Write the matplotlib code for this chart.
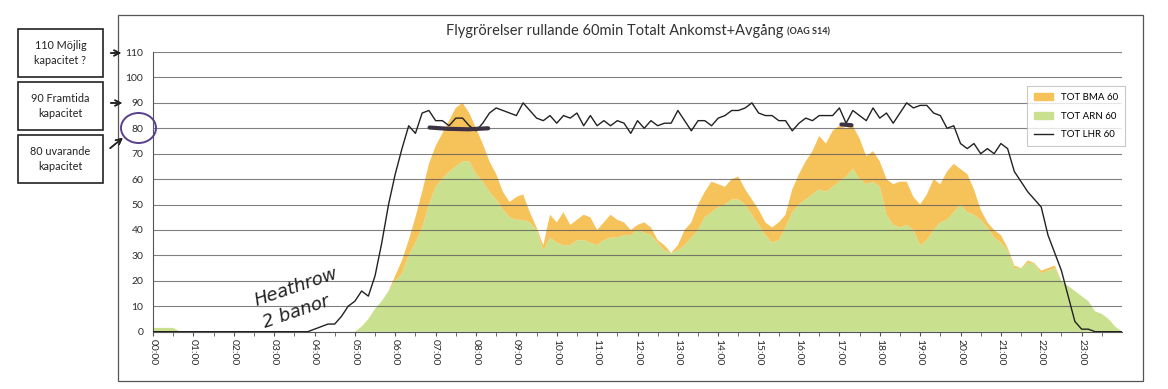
import numpy as np
import matplotlib.pyplot as plt
from matplotlib.patches import Rectangle, Ellipse, Patch
from matplotlib.lines import Line2D

# rolling 60 min movements, one value every 10 minutes from 00:00 to 24:00
arn = [1.5, 1.5, 1.5, 1.5, 0, 0,
       0, 0, 0, 0, 0, 0,
       0, 0, 0, 0, 0, 0,
       0, 0, 0, 0, 0, 0,
       0, 0, 0, 0, 0, 0,
       0, 2, 5, 9, 12, 16,
       20, 23, 30, 35, 41, 50,
       57, 60, 63, 65, 67, 67,
       62, 59, 55, 52, 48, 45,
       44, 44, 43, 40, 32, 37,
       35, 34, 34, 36, 36, 35,
       34, 36, 37, 37, 38, 38,
       40, 39, 38, 35, 32, 31,
       32, 34, 37, 40, 45, 47,
       49, 50, 52, 52, 50, 46,
       42, 38, 35, 36, 41, 47,
       50, 52, 54, 56, 55, 57,
       59, 61, 64, 60, 58, 59,
       57, 46, 42, 41, 42, 40,
       34, 36, 40, 43, 44, 47,
       50, 47, 46, 44, 41, 37,
       35, 32, 25, 25, 27, 27,
       23, 24, 25, 20, 18, 16,
       14, 12, 8, 7, 5, 2,
       0]

bma = [0, 0, 0, 0, 0, 0,
       0, 0, 0, 0, 0, 0,
       0, 0, 0, 0, 0, 0,
       0, 0, 0, 0, 0, 0,
       0, 0, 0, 0, 0, 0,
       0, 0, 0, 0, 0, 0,
       2, 5, 6, 10, 14, 16,
       16, 18, 20, 23, 23, 19,
       18, 15, 12, 10, 7, 6,
       9, 10, 4, 1, 2, 9,
       8, 13, 8, 8, 10, 10,
       6, 7, 9, 7, 5, 2,
       2, 4, 3, 1, 2, 0,
       2, 6, 6, 10, 10, 12,
       9, 7, 8, 9, 6, 6,
       6, 5, 6, 7, 5, 9,
       12, 15, 17, 21, 19, 22,
       22, 19, 17, 16, 11, 12,
       10, 14, 16, 18, 17, 13,
       16, 18, 20, 15, 19, 19,
       14, 15, 10, 4, 2, 3,
       3, 1, 1, 0, 1, 0,
       1, 1, 1, 0, 0, 0,
       0, 0, 0, 0, 0, 0,
       0]

lhr = [0, 0, 0, 0, 0, 0,
       0, 0, 0, 0, 0, 0,
       0, 0, 0, 0, 0, 0,
       0, 0, 0, 0, 0, 0,
       1, 2, 3, 3, 6, 10,
       12, 16, 14, 22, 35, 50,
       62, 72, 81, 78, 86, 87,
       83, 83, 81, 84, 84, 81,
       79, 82, 86, 88, 87, 86,
       85, 90, 87, 84, 83, 85,
       82, 85, 84, 86, 81, 85,
       81, 83, 81, 83, 82, 78,
       83, 80, 83, 81, 82, 82,
       87, 83, 79, 83, 83, 81,
       84, 85, 87, 87, 88, 90,
       86, 85, 85, 83, 83, 79,
       82, 84, 83, 85, 85, 85,
       88, 82, 87, 85, 83, 88,
       84, 86, 82, 86, 90, 88,
       89, 89, 86, 85, 80, 81,
       74, 72, 74, 70, 72, 70,
       74, 72, 63, 59, 55, 52,
       49, 38, 31, 24, 14, 4,
       1, 1, 0, 0, 0, 0,
       0]

hour_labels = [f"{h:02d}:00" for h in range(24)]
y_ticks = [0, 10, 20, 30, 40, 50, 60, 70, 80, 90, 100, 110]

boxes = ["110 Möjlig\nkapacitet ?", "90 Framtida\nkapacitet", "80 uvarande\nkapacitet"]

W, H = 1168, 389
fig = plt.figure(figsize=(W / 100, H / 100), dpi=100)
fig.patch.set_facecolor("white")

def fx(px): return px / W
def fy(py): return 1 - py / H

ax = fig.add_axes([fx(153), fy(331.7), fx(1122) - fx(153), fy(52) - fy(331.7)])

t = np.arange(len(arn)) / 6.0
green, orange = "#c9e08e", "#f6c25a"
ax.stackplot(t, arn, bma, colors=[green, orange], linewidth=0, zorder=1)
ax.plot(t, lhr, color="#222222", lw=1.0, zorder=4)

ax.set_xlim(0, 24)
ax.set_ylim(0, 110)
ax.set_yticks(y_ticks)
ax.set_yticklabels([str(v) for v in y_ticks], fontsize=7.5, color="#2a2a2a", family="Lato")
ax.yaxis.grid(True, color="#555555", lw=0.8, alpha=0.75, zorder=2)
ax.set_axisbelow(False)
ax.tick_params(axis="y", length=0, pad=7)

ax.set_xticks(np.arange(24))
ax.set_xticklabels(hour_labels, rotation=270, fontsize=7.5, color="#2a2a2a", family="Lato")
ax.set_xticks(np.arange(0.5, 24, 1), minor=True)
ax.tick_params(axis="x", which="both", length=3, color="#555555", pad=2)

for s in ["top", "right"]:
    ax.spines[s].set_visible(False)
for s in ["left", "bottom"]:
    ax.spines[s].set_color("#555555")
    ax.spines[s].set_linewidth(0.8)

# legend (BMA, ARN, LHR)
handles = [Patch(color=orange), Patch(color=green), Line2D([0], [0], color="#222222", lw=1)]
leg = ax.legend(handles, ["TOT BMA 60", "TOT ARN 60", "TOT LHR 60"],
                loc="upper left", bbox_to_anchor=(0.897, 0.895),
                frameon=True, fancybox=False, handlelength=2.0, labelspacing=1.0,
                borderpad=0.7, prop={"family": "Lato", "size": 7})
leg.get_frame().set_edgecolor("#bbbbbb")
leg.get_frame().set_linewidth(0.8)
leg.set_zorder(5)

# title
fig.text(fx(783), fy(31), "Flygrörelser rullande 60min Totalt Ankomst+Avgång",
         ha="right", va="center", fontsize=10.5, color="#333333", family="Lato")
fig.text(fx(787), fy(32), "(OAG S14)", ha="left", va="center", fontsize=6.5,
         color="#333333", family="Lato", weight="bold")

# chart frame
fig.add_artist(Rectangle((fx(118), fy(381)), fx(1143) - fx(118), fy(15) - fy(381),
                         transform=fig.transFigure, fill=False, ec="#555555", lw=0.9))

# capacity notes on the left
box_tops = [29, 82, 135]
for top, txt in zip(box_tops, boxes):
    fig.add_artist(Rectangle((fx(18), fy(top + 48)), fx(103) - fx(18), fy(top) - fy(top + 48),
                             transform=fig.transFigure, fill=False, ec="#222222", lw=1.2))
    fig.text(fx(60.5), fy(top + 24), txt, ha="center", va="center", fontsize=7.8,
             color="#222222", family="Lato", linespacing=1.5)

arrows = [((108, 53), (124, 53)), ((108, 103), (125, 103)), ((108, 150), (125, 136))]
for (x0, y0), (x1, y1) in arrows:
    fig.add_artist(plt.annotate("", xy=(fx(x1), fy(y1)), xytext=(fx(x0), fy(y0)),
                                xycoords="figure fraction", textcoords="figure fraction",
                                arrowprops=dict(arrowstyle="->", color="#222222", lw=1.1)))

fig.add_artist(Ellipse((fx(138.5), fy(128)), fx(35), 30 / H, transform=fig.transFigure,
                       fill=False, ec="#5a3f8c", lw=1.4))

# handwritten marks
ax.plot([6.85, 7.3, 7.8, 8.3], [80.3, 79.8, 79.6, 80.0], color="#3d3242", lw=3,
        solid_capstyle="round", zorder=6)
ax.plot([17.05, 17.3], [81.5, 81.2], color="#3d3242", lw=3, solid_capstyle="round", zorder=6)
fig.text(fx(296), fy(287), "Heathrow", rotation=19, ha="center", va="center",
         fontsize=13, style="italic", color="#222222", family="DejaVu Sans")
fig.text(fx(296), fy(312), "2 banor", rotation=19, ha="center", va="center",
         fontsize=13, style="italic", color="#222222", family="DejaVu Sans")

fig.savefig("out.png", dpi=100)
